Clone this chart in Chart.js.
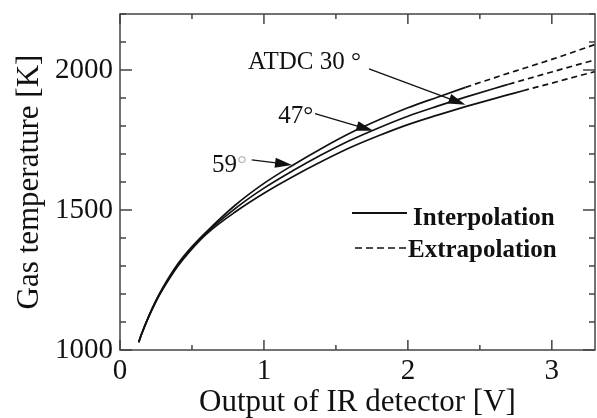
<!DOCTYPE html>
<html>
<head>
<meta charset="utf-8">
<script src="https://cdn.jsdelivr.net/npm/chart.js@4.4.0/dist/chart.umd.min.js"></script>
<style>
html,body{margin:0;padding:0;background:#fff}
</style>
</head>
<body>
<canvas id="myChart" width="597" height="418"></canvas>
<script>
// output of IR detector [V]
var volts = [0.13,0.15,0.2,0.25,0.3,0.4,0.5,0.6,0.8,1.0,1.2,1.4,1.6,1.8,2.0,2.2,2.4,2.6,2.7,2.8,3.0,3.2,3.3]
// gas temperature [K] for each crank angle
var temp59 = [1028,1057,1121,1177,1225,1306,1369,1422,1517,1595,1660,1720,1775,1822,1865,1902,1938,1972,1989,2005,2038,2073,2091]
var temp47 = [1028,1057,1120,1175,1222,1302,1365,1418,1505,1578,1640,1697,1749,1794,1835,1870,1903,1934,1949,1964,1993,2022,2036]
var temp30 = [1028,1057,1119,1173,1219,1298,1361,1414,1493,1560,1619,1673,1723,1766,1805,1838,1869,1898,1912,1926,1953,1981,1994]
// voltage where interpolation ends and extrapolation starts
var extrap59 = 2.4
var extrap47 = 2.7
var extrap30 = 2.8

var xTickLabels = [0,1,2,3]
var yTickLabels = [1000,1500,2000]

var serif = "'Liberation Serif','Times New Roman',serif"
var ink = "#111"

function points(ys){
    var out = []
    for(var i=0;i<volts.length;i++) out.push({x:volts[i],y:ys[i]})
    return out
}
function curve(ys,limit){
    return {
        data:points(ys),
        showLine:true,
        borderColor:ink,
        borderWidth:1.7,
        pointRadius:0,
        fill:false,
        cubicInterpolationMode:'monotone',
        segment:{
            borderDash:function(c){ return c.p0.parsed.x >= limit-1e-6 ? [6,4] : undefined }
        }
    }
}

// labels with arrows, in data units
var notes = [
    {text:"ATDC 30 °", at:[0.89,2005], from:[1.73,2004], to:[2.40,1876]},
    {text:"47°", at:[1.10,1812], from:[1.355,1844], to:[1.76,1783]},
    {text:"59", at:[0.64,1637], from:[0.915,1679], to:[1.195,1661]}
]

var frame = {
    id:'frame',
    afterDraw:function(chart){
        var ctx = chart.ctx, a = chart.chartArea
        var xs = chart.scales.x, ys = chart.scales.y
        ctx.save()
        ctx.strokeStyle = "#444"
        ctx.lineWidth = 1.5
        ctx.strokeRect(a.left,a.top,a.right-a.left,a.bottom-a.top)
        ctx.beginPath()
        for(var i=0;i<=6;i++){
            var px = xs.getPixelForValue(i*0.5)
            var len = i%2==0 ? 10 : 5
            ctx.moveTo(px,a.bottom); ctx.lineTo(px,a.bottom-len)
            ctx.moveTo(px,a.top); ctx.lineTo(px,a.top+len)
        }
        for(var j=0;j<=12;j++){
            var py = ys.getPixelForValue(1000+j*100)
            var l2 = j%5==0 ? 12 : 6
            ctx.moveTo(a.left,py); ctx.lineTo(a.left+l2,py)
            ctx.moveTo(a.right,py); ctx.lineTo(a.right-l2,py)
        }
        ctx.stroke()

        // arrows and angle labels
        ctx.fillStyle = ink
        ctx.strokeStyle = ink
        ctx.lineWidth = 1.3
        ctx.font = "25px " + serif
        ctx.textBaseline = "alphabetic"
        notes.forEach(function(n){
            var x0 = xs.getPixelForValue(n.from[0]), y0 = ys.getPixelForValue(n.from[1])
            var x1 = xs.getPixelForValue(n.to[0]), y1 = ys.getPixelForValue(n.to[1])
            var ang = Math.atan2(y1-y0,x1-x0)
            ctx.beginPath(); ctx.moveTo(x0,y0); ctx.lineTo(x1-14*Math.cos(ang),y1-14*Math.sin(ang)); ctx.stroke()
            ctx.beginPath()
            ctx.moveTo(x1,y1)
            ctx.lineTo(x1-17*Math.cos(ang)+5*Math.sin(ang), y1-17*Math.sin(ang)-5*Math.cos(ang))
            ctx.lineTo(x1-17*Math.cos(ang)-5*Math.sin(ang), y1-17*Math.sin(ang)+5*Math.cos(ang))
            ctx.closePath(); ctx.fill()
            ctx.fillText(n.text, xs.getPixelForValue(n.at[0]), ys.getPixelForValue(n.at[1]))
        })
        // faint degree sign of 59
        var w59 = ctx.measureText("59").width
        ctx.fillStyle = "#bbb"
        ctx.fillText("°", xs.getPixelForValue(notes[2].at[0])+w59, ys.getPixelForValue(notes[2].at[1]))

        // legend
        ctx.fillStyle = ink
        ctx.strokeStyle = ink
        ctx.lineWidth = 2
        ctx.beginPath(); ctx.moveTo(352,213); ctx.lineTo(407,213); ctx.stroke()
        ctx.lineWidth = 1.3
        ctx.setLineDash([7,4])
        ctx.beginPath(); ctx.moveTo(355,248); ctx.lineTo(407,248); ctx.stroke()
        ctx.setLineDash([])
        ctx.font = "bold 25px " + serif
        ctx.fillText("Interpolation",413,225)
        ctx.fillText("Extrapolation",408,257)
        ctx.restore()
    }
}

var myChart = document.getElementById("myChart").getContext("2d")
var chart = new Chart(myChart,{
    type:'scatter',
    data:{
        datasets:[
            curve(temp59,extrap59),
            curve(temp47,extrap47),
            curve(temp30,extrap30)
        ]
    },
    options:{
        responsive:false,
        animation:false,
        devicePixelRatio:1,
        layout:{padding:{top:14,right:2,left:0,bottom:0}},
        plugins:{legend:{display:false},tooltip:{enabled:false}},
        scales:{
            x:{
                type:'linear',
                min:0, max:3.3,
                grid:{display:false, drawTicks:false},
                border:{display:false},
                afterBuildTicks:function(s){ s.ticks = xTickLabels.map(function(v){return {value:v}}) },
                afterFit:function(s){ s.height = 68; s.paddingLeft = 0; s.paddingRight = 0 },
                ticks:{font:{family:serif,size:29},color:ink,padding:4,maxRotation:0,callback:function(v){return String(v)}},
                title:{display:true,text:"Output of IR detector [V]",font:{family:serif,size:31,lineHeight:0.8},color:ink,padding:{top:0,bottom:3}}
            },
            y:{
                type:'linear',
                min:1000, max:2200,
                grid:{display:false, drawTicks:false},
                border:{display:false},
                afterBuildTicks:function(s){ s.ticks = yTickLabels.map(function(v){return {value:v}}) },
                afterFit:function(s){ s.width = 120; s.paddingTop = 0; s.paddingBottom = 0 },
                ticks:{font:{family:serif,size:29},color:ink,padding:7,callback:function(v){return String(v)}},
                title:{display:true,text:"Gas temperature [K]",font:{family:serif,size:31,lineHeight:0.8},color:ink,padding:{top:17,bottom:0}}
            }
        }
    },
    plugins:[frame]
})
</script>
</body>
</html>
